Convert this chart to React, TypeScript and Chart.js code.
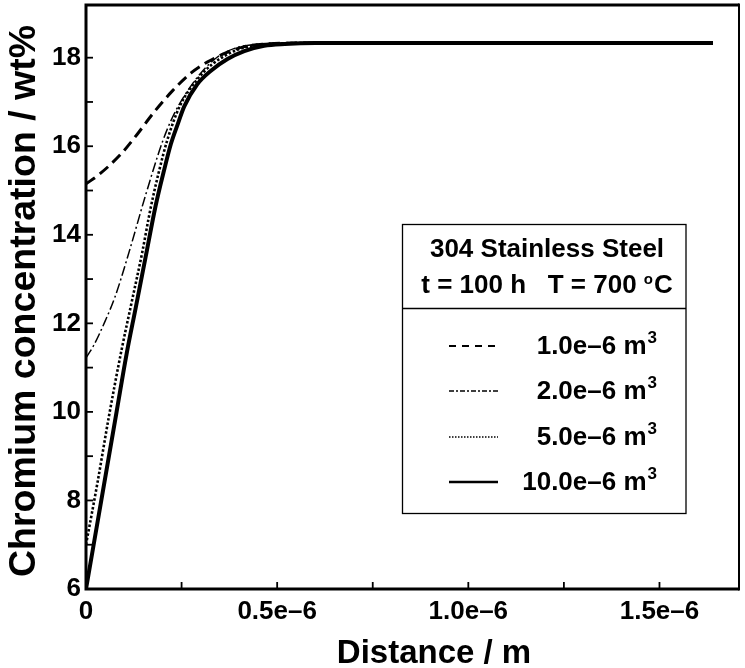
import { useEffect, useRef } from 'react';
import { Chart, registerables } from 'chart.js';

Chart.register(...registerables);

// Cr depletion profiles in 304 stainless steel after 100 h at 700 °C
const volumeLabels = ['1.0e–6', '2.0e–6', '5.0e–6', '10.0e–6'];

const dist1 = [0, 0.034e-6, 0.091e-6, 0.133e-6, 0.178e-6, 0.226e-6, 0.274e-6, 0.317e-6, 0.369e-6, 0.414e-6, 0.47e-6, 0.55e-6, 0.8e-6, 1.2e-6, 1.64e-6];
const cr1 = [15.15, 15.36, 15.82, 16.26, 16.77, 17.25, 17.65, 17.9, 18.12, 18.25, 18.31, 18.33, 18.33, 18.33, 18.33];

const dist2 = [0, 0.02e-6, 0.05e-6, 0.076e-6, 0.113e-6, 0.156e-6, 0.2e-6, 0.226e-6, 0.256e-6, 0.3e-6, 0.343e-6, 0.395e-6, 0.44e-6, 0.5e-6, 0.8e-6, 1.2e-6, 1.64e-6];
const cr2 = [11.22, 11.5, 12.05, 12.6, 13.62, 14.9, 16.1, 16.65, 17.12, 17.65, 18.01, 18.23, 18.3, 18.33, 18.33, 18.33, 18.33];

const dist3 = [0, 0.03e-6, 0.06e-6, 0.093e-6, 0.12e-6, 0.147e-6, 0.169e-6, 0.19e-6, 0.213e-6, 0.245e-6, 0.29e-6, 0.33e-6, 0.38e-6, 0.42e-6, 0.48e-6, 0.56e-6, 0.8e-6, 1.2e-6, 1.64e-6];
const cr3 = [7.0, 8.4, 9.9, 11.4, 12.5, 13.6, 14.6, 15.4, 16.15, 16.9, 17.5, 17.85, 18.12, 18.24, 18.31, 18.33, 18.33, 18.33, 18.33];

const dist4 = [0, 0.04e-6, 0.08e-6, 0.106e-6, 0.13e-6, 0.156e-6, 0.182e-6, 0.204e-6, 0.222e-6, 0.24e-6, 0.257e-6, 0.291e-6, 0.326e-6, 0.37e-6, 0.414e-6, 0.466e-6, 0.52e-6, 0.6e-6, 0.8e-6, 1.2e-6, 1.64e-6];
const cr4 = [6.0, 8.0, 10.0, 11.3, 12.35, 13.5, 14.65, 15.45, 16.05, 16.5, 16.9, 17.4, 17.7, 17.97, 18.15, 18.27, 18.31, 18.33, 18.33, 18.33, 18.33];

const xTickValues = [0, 0.5e-6, 1.0e-6, 1.5e-6];
const xTickLabels = ['0', '0.5e–6', '1.0e–6', '1.5e–6'];
const yTickValues = [6, 8, 10, 12, 14, 16, 18];
const yTickLabels = ['6', '8', '10', '12', '14', '16', '18'];

const X_MAX = 1.708e-6;
const Y_MIN = 6;
const Y_MAX = 19.19;

const FONT = "'Liberation Sans', Arial, Helvetica, sans-serif";

const lineDash = [[11, 6], [10, 3, 2, 3], [2.5, 2], []];
const lineWidth = [3, 1.5, 2.6, 4];
const keyDash = [[7, 6], [5, 2, 2, 2], [1.5, 1.5], []];
const keyWidth = [2, 1.5, 1.5, 2.5];

const pairs = (xs: number[], ys: number[]) => xs.map((x, i) => ({ x, y: ys[i] }));
const seriesData = [pairs(dist1, cr1), pairs(dist2, cr2), pairs(dist3, cr3), pairs(dist4, cr4)];

const labelFor = (v: number, values: number[], labels: string[], eps: number) => {
  const i = values.findIndex((t) => Math.abs(t - v) < eps);
  return i >= 0 ? labels[i] : '';
};

const decorPlugin = {
  id: 'decor',
  afterDraw(chart: any) {
    const { ctx, chartArea: a } = chart;
    const xs = chart.scales.x;
    const ys = chart.scales.y;
    ctx.save();

    // inward tick marks
    ctx.strokeStyle = '#000';
    ctx.lineWidth = 1.8;
    ctx.setLineDash([]);
    ys.ticks.forEach((t: any) => {
      if (t.value > 18.001 || t.value <= Y_MIN) return;
      const y = ys.getPixelForValue(t.value);
      ctx.beginPath();
      ctx.moveTo(a.left, y);
      ctx.lineTo(a.left + 7, y);
      ctx.stroke();
    });
    xs.ticks.forEach((t: any) => {
      if (t.value <= 0) return;
      const x = xs.getPixelForValue(t.value);
      ctx.beginPath();
      ctx.moveTo(x, a.bottom);
      ctx.lineTo(x, a.bottom - 7);
      ctx.stroke();
    });

    // frame
    ctx.lineWidth = 3;
    ctx.beginPath();
    ctx.moveTo(a.left, a.bottom);
    ctx.lineTo(a.left, a.top);
    ctx.lineTo(a.right, a.top);
    ctx.moveTo(a.left - 1.5, a.bottom);
    ctx.lineTo(a.right, a.bottom);
    ctx.stroke();
    ctx.lineWidth = 2;
    ctx.beginPath();
    ctx.moveTo(a.right, a.top - 1.5);
    ctx.lineTo(a.right, a.bottom + 1.5);
    ctx.stroke();

    // axis titles
    ctx.fillStyle = '#000';
    ctx.font = `bold 33px ${FONT}`;
    ctx.textAlign = 'center';
    ctx.textBaseline = 'alphabetic';
    ctx.fillText('Distance / m', 434, 663);
    ctx.save();
    ctx.translate(35, 301);
    ctx.rotate(-Math.PI / 2);
    ctx.font = `bold 37.5px ${FONT}`;
    ctx.fillText('Chromium concentration / wt%', 0, 0);
    ctx.restore();

    // key box
    const bx = 402.5, by = 224.5, bw = 283.5, bh = 289, div = 308.5;
    ctx.fillStyle = '#fff';
    ctx.fillRect(bx, by, bw, bh);
    ctx.strokeStyle = '#000';
    ctx.lineWidth = 1.3;
    ctx.strokeRect(bx, by, bw, bh);
    ctx.beginPath();
    ctx.moveTo(bx, div);
    ctx.lineTo(bx + bw, div);
    ctx.stroke();

    ctx.fillStyle = '#000';
    ctx.textAlign = 'left';
    ctx.font = `bold 26px ${FONT}`;
    const head1 = '304 Stainless Steel';
    ctx.fillText(head1, 547 - ctx.measureText(head1).width / 2, 257);

    const partA = 't = 100 h   T = 700 ';
    const partC = 'C';
    const wA = ctx.measureText(partA).width;
    const wC = ctx.measureText(partC).width;
    ctx.font = `bold 15px ${FONT}`;
    const wO = ctx.measureText('o').width;
    const total = wA + wO + 1 + wC;
    const cx = 547 - total / 2;
    ctx.font = `bold 26px ${FONT}`;
    ctx.fillText(partA, cx, 293);
    ctx.font = `bold 15px ${FONT}`;
    ctx.fillText('o', cx + wA, 284);
    ctx.font = `bold 26px ${FONT}`;
    ctx.fillText(partC, cx + wA + wO + 1, 293);

    const rows = [346, 391, 437, 482];
    volumeLabels.forEach((v, i) => {
      const y = rows[i];
      ctx.save();
      ctx.strokeStyle = '#000';
      ctx.lineWidth = keyWidth[i];
      ctx.setLineDash(keyDash[i]);
      ctx.beginPath();
      ctx.moveTo(449, y);
      ctx.lineTo(498, y);
      ctx.stroke();
      ctx.restore();

      const main = `${v} m`;
      ctx.font = `bold 26px ${FONT}`;
      const wm = ctx.measureText(main).width;
      ctx.font = `bold 17px ${FONT}`;
      const ws = ctx.measureText('3').width;
      const x0 = 657 - (wm + 1 + ws);
      ctx.font = `bold 26px ${FONT}`;
      ctx.fillText(main, x0, y + 8);
      ctx.font = `bold 17px ${FONT}`;
      ctx.fillText('3', x0 + wm + 1, y - 3);
    });

    ctx.restore();
  },
};

export default function App() {
  const canvasRef = useRef<HTMLCanvasElement | null>(null);

  useEffect(() => {
    if (!canvasRef.current) return;
    const order = [3, 2, 1, 0];
    const chart = new Chart(canvasRef.current, {
      type: 'line',
      data: {
        datasets: seriesData.map((d, i) => ({
          label: `${volumeLabels[i]} m³`,
          data: d,
          borderColor: '#000',
          borderWidth: lineWidth[i],
          borderDash: lineDash[i],
          borderCapStyle: 'butt',
          pointRadius: 0,
          fill: false,
          cubicInterpolationMode: 'monotone',
          order: order[i],
        })),
      },
      options: {
        animation: false,
        responsive: true,
        maintainAspectRatio: false,
        events: [],
        layout: { padding: { top: 5, right: 6, left: 0, bottom: 0 } },
        plugins: {
          legend: { display: false },
          tooltip: { enabled: false },
        },
        scales: {
          x: {
            type: 'linear',
            min: 0,
            max: X_MAX,
            grid: { display: false, drawTicks: false },
            border: { display: false },
            ticks: {
              stepSize: 0.25e-6,
              includeBounds: false,
              autoSkip: false,
              maxRotation: 0,
              padding: 7,
              color: '#000',
              font: { family: FONT, size: 26, weight: 'bold' },
              callback: (v: any) => labelFor(Number(v), xTickValues, xTickLabels, 1e-9),
            },
            afterFit: (s: any) => {
              s.height = 79;
              s.paddingLeft = 0;
              s.paddingRight = 0;
            },
          },
          y: {
            type: 'linear',
            min: Y_MIN,
            max: Y_MAX,
            grid: { display: false, drawTicks: false },
            border: { display: false },
            ticks: {
              stepSize: 1,
              includeBounds: false,
              autoSkip: false,
              padding: 5,
              color: '#000',
              font: { family: FONT, size: 26, weight: 'bold' },
              callback: (v: any) => labelFor(Number(v), yTickValues, yTickLabels, 1e-6),
            },
            afterFit: (s: any) => {
              s.width = 86;
              s.paddingTop = 0;
              s.paddingBottom = 0;
            },
          },
        },
      },
      plugins: [decorPlugin],
    } as any);
    return () => chart.destroy();
  }, []);

  return (
    <div style={{ position: 'absolute', left: 0, top: 0, width: 745, height: 668, background: '#fff' }}>
      <canvas ref={canvasRef} />
    </div>
  );
}
